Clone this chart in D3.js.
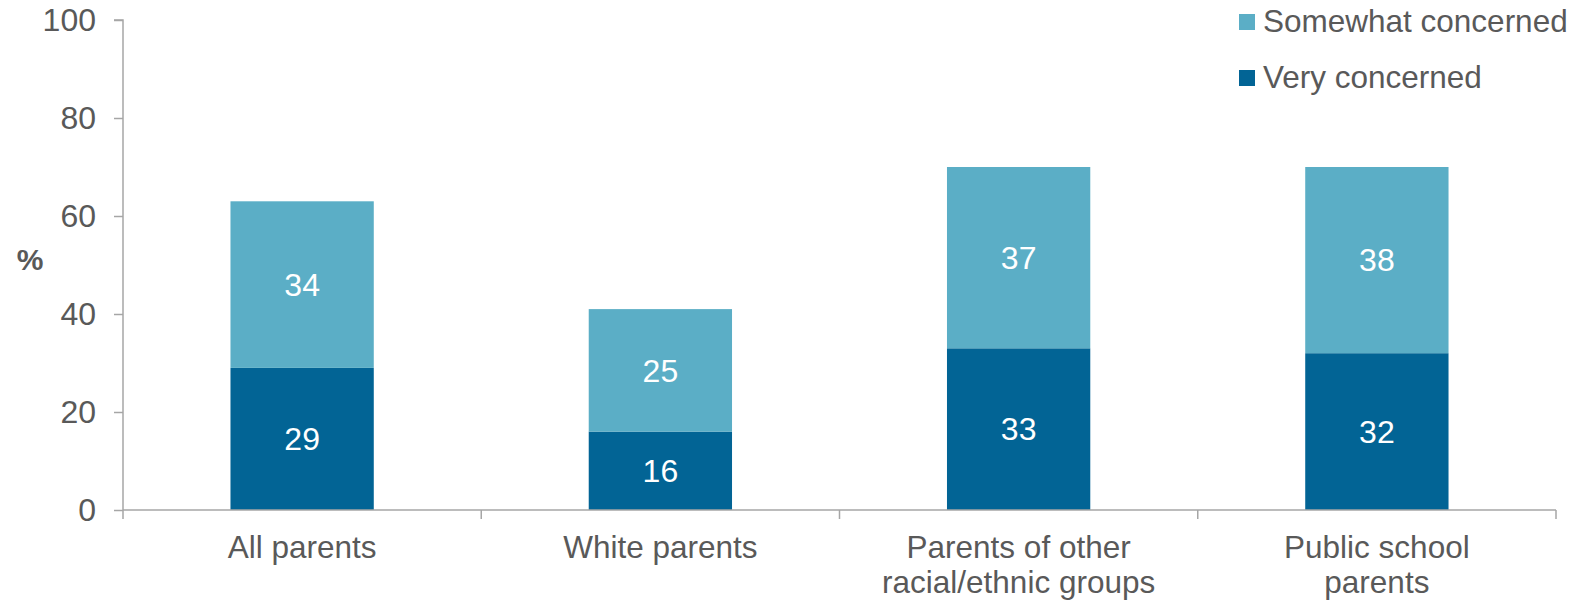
<!DOCTYPE html>
<html>
<head>
<meta charset="utf-8">
<script src="https://cdn.jsdelivr.net/npm/d3@7"></script>
<style>
  html, body { margin: 0; padding: 0; background: #fff; }
  svg { display: block; font-family: "Liberation Sans", Arial, sans-serif; }
</style>
</head>
<body>
<svg id="chart" width="1579" height="601"></svg>
<script>
// Data
const categories = ["All parents", "White parents", "Parents of other racial/ethnic groups", "Public school parents"];
const categoryLines = [["All parents"], ["White parents"], ["Parents of other", "racial/ethnic groups"], ["Public school", "parents"]];
const veryConcerned = [29, 16, 33, 32];
const somewhatConcerned = [34, 25, 37, 38];
const seriesNames = ["Somewhat concerned", "Very concerned"];
const yTicks = [0, 20, 40, 60, 80, 100];

const colors = { very: "#026495", somewhat: "#5BAEC6" };
const textColor = "#595959";
const axisColor = "#a6a6a6";
const fontSize = 32;

const svg = d3.select("#chart");

const x = d3.scaleBand().domain(categories).range([123, 1556]).paddingInner(0.6).paddingOuter(0.3);
const y = d3.scaleLinear().domain([0, 100]).range([510, 20]);

// Stacked data
const rows = categories.map((c, i) => ({ cat: c, very: veryConcerned[i], somewhat: somewhatConcerned[i] }));
const stack = d3.stack().keys(["very", "somewhat"]);
const stacked = stack(rows);

// Bars
const g = svg.append("g");
stacked.forEach(layer => {
  g.selectAll(null)
    .data(layer)
    .enter()
    .append("rect")
    .attr("x", d => x(d.data.cat))
    .attr("width", x.bandwidth())
    .attr("y", d => y(d[1]))
    .attr("height", d => y(d[0]) - y(d[1]))
    .attr("fill", colors[layer.key]);
  g.selectAll(null)
    .data(layer)
    .enter()
    .append("text")
    .attr("x", d => x(d.data.cat) + x.bandwidth() / 2)
    .attr("y", d => y((d[0] + d[1]) / 2))
    .attr("dy", "0.35em")
    .attr("text-anchor", "middle")
    .attr("fill", "#fff")
    .attr("font-size", fontSize)
    .text(d => d.data[layer.key]);
});

// Y axis
const yAxis = d3.axisLeft(y).tickValues(yTicks).tickSize(9).tickPadding(18);
const yg = svg.append("g").attr("transform", "translate(123,0)").call(yAxis);
yg.select(".domain").attr("stroke", axisColor).attr("stroke-width", 1.5).attr("d", `M-9,${y(100)}H0V${y(0)}`);
yg.selectAll(".tick line").attr("stroke", axisColor).attr("stroke-width", 1.5);
yg.selectAll(".tick text").attr("fill", textColor).attr("font-size", fontSize).attr("font-family", "Liberation Sans, Arial, sans-serif");

// X axis line and boundary ticks
const step = x.step();
const x0 = x.range()[0];
svg.append("line")
  .attr("x1", x0).attr("x2", x.range()[1])
  .attr("y1", y(0)).attr("y2", y(0))
  .attr("stroke", axisColor).attr("stroke-width", 1.5);
svg.selectAll(null)
  .data(d3.range(categories.length + 1))
  .enter()
  .append("line")
  .attr("x1", i => x0 + i * step).attr("x2", i => x0 + i * step)
  .attr("y1", y(0)).attr("y2", y(0) + 9)
  .attr("stroke", axisColor).attr("stroke-width", 1.5);

// X labels
categories.forEach((c, i) => {
  const t = svg.append("text")
    .attr("text-anchor", "middle")
    .attr("fill", textColor)
    .attr("font-size", 31.5);
  categoryLines[i].forEach((line, j) => {
    t.append("tspan")
      .attr("x", x(c) + x.bandwidth() / 2)
      .attr("y", 558 + j * 35)
      .text(line);
  });
});

// Y axis title
svg.append("text")
  .attr("x", 30).attr("y", 259)
  .attr("dy", "0.35em")
  .attr("text-anchor", "middle")
  .attr("font-weight", "bold")
  .attr("fill", textColor)
  .attr("font-size", 30)
  .text("%");

// Legend
const legendColors = [colors.somewhat, colors.very];
seriesNames.forEach((name, i) => {
  const ly = 22 + i * 56;
  svg.append("rect")
    .attr("x", 1239).attr("y", ly - 8)
    .attr("width", 16).attr("height", 16)
    .attr("fill", legendColors[i]);
  svg.append("text")
    .attr("x", 1263).attr("y", ly + 10)
    .attr("fill", textColor)
    .attr("font-size", 31.5)
    .text(name);
});
</script>
</body>
</html>
